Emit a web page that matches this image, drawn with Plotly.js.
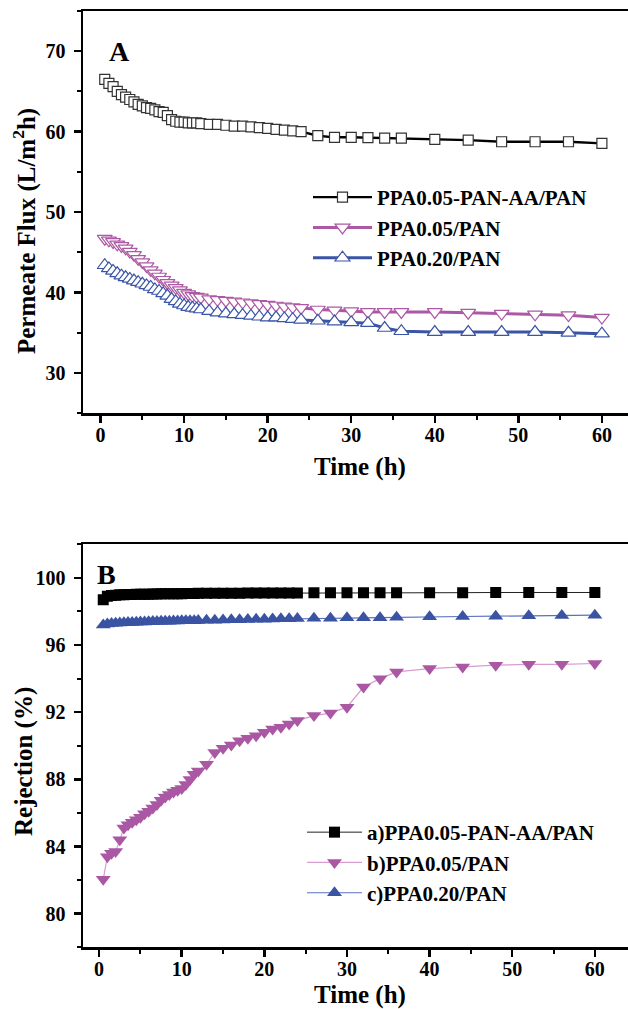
<!DOCTYPE html>
<html>
<head>
<meta charset="utf-8">
<script src="https://cdn.plot.ly/plotly-3.0.1.min.js"></script>
<style>
html,body{margin:0;padding:0;overflow:hidden;background:#fff;}
#chart{width:640px;height:1009px;}
</style>
</head>
<body>
<div id="chart"></div>
<script>
// Time (h) - shared sampling times
const time = [0.5,1,1.5,2,2.5,3,3.5,4,4.5,5,5.5,6,6.5,7,7.5,8,8.5,9,9.5,10,10.5,11,11.5,12,
  13,14,15,16,17,18,19,20,21,22,23,24,26,28,30,32,34,36,40,44,48,52,56,60];

// Panel A: Permeate flux (L/m2h)
const fluxAAPan = [66.5,66.0,65.6,65.0,64.6,64.3,64.0,63.7,63.4,63.2,63.0,62.9,62.7,62.5,62.4,62.0,61.5,61.3,61.2,61.2,61.1,61.1,61.1,61.0,
  60.9,60.9,60.8,60.7,60.7,60.6,60.5,60.4,60.3,60.2,60.1,60.0,59.5,59.3,59.3,59.25,59.2,59.2,59.05,58.95,58.75,58.75,58.75,58.55];
const flux005 = [46.7,46.5,46.3,46.0,45.8,45.5,45.1,44.7,44.2,43.8,43.3,42.8,42.4,42.0,41.6,41.2,40.9,40.6,40.3,40.0,39.8,39.6,39.5,39.4,
  39.2,39.1,39.0,38.9,38.8,38.7,38.6,38.5,38.4,38.3,38.2,38.1,37.9,37.8,37.7,37.6,37.6,37.6,37.6,37.5,37.4,37.3,37.2,36.9];
const flux020 = [43.4,43.0,42.7,42.4,42.1,41.9,41.7,41.5,41.3,41.1,40.9,40.7,40.4,40.2,39.9,39.6,39.2,38.9,38.6,38.4,38.2,38.1,38.0,37.9,
  37.7,37.5,37.4,37.3,37.2,37.1,37.0,36.9,36.9,36.8,36.7,36.6,36.5,36.4,36.3,36.2,35.6,35.2,35.1,35.1,35.1,35.1,35.0,34.9];

// Panel B: Rejection (%)
const rejAAPan = [98.7,98.9,98.95,98.97,99.0,99.0,99.01,99.01,99.02,99.02,99.03,99.03,99.04,99.04,99.05,99.05,99.05,99.06,99.06,99.06,99.07,99.07,99.07,99.08,
  99.08,99.08,99.09,99.09,99.09,99.1,99.1,99.1,99.1,99.1,99.1,99.1,99.12,99.12,99.12,99.12,99.12,99.12,99.12,99.12,99.13,99.13,99.13,99.13];
const rej005 = [82.05,83.4,83.6,83.7,84.4,85.1,85.3,85.45,85.6,85.75,85.95,86.1,86.3,86.5,86.75,86.95,87.1,87.25,87.35,87.45,87.7,88.0,88.3,88.5,
  88.9,89.6,89.85,90.05,90.3,90.45,90.6,90.8,91.0,91.1,91.3,91.5,91.8,91.95,92.3,93.5,94.0,94.4,94.6,94.7,94.8,94.85,94.85,94.9];
const rej020 = [97.2,97.25,97.28,97.3,97.32,97.33,97.34,97.35,97.36,97.37,97.38,97.39,97.4,97.4,97.41,97.42,97.42,97.43,97.43,97.44,97.44,97.45,97.45,97.46,
  97.47,97.48,97.49,97.5,97.51,97.52,97.53,97.54,97.55,97.56,97.57,97.58,97.6,97.6,97.62,97.62,97.63,97.65,97.68,97.7,97.72,97.74,97.76,97.78];

const namesA = ['PPA0.05-PAN-AA/PAN','PPA0.05/PAN','PPA0.20/PAN'];
const namesB = ['a)PPA0.05-PAN-AA/PAN','b)PPA0.05/PAN','c)PPA0.20/PAN'];

const FONT = 'Liberation Serif, Times New Roman, serif';
const MAG = '#AD58A4', BLUE = '#3B55A6';

const traces = [
  {x: time, y: fluxAAPan, name: namesA[0], xaxis:'x', yaxis:'y', legend:'legend', mode:'lines+markers',
   line:{color:'#000', width:2.4}, marker:{symbol:'square', size:10, color:'#fff', line:{color:'#333', width:1.2}}},
  {x: time, y: flux005, name: namesA[1], xaxis:'x', yaxis:'y', legend:'legend', mode:'lines+markers',
   line:{color:MAG, width:3}, marker:{symbol:'triangle-down', size:13, color:'#fff', line:{color:MAG, width:1.2}}},
  {x: time, y: flux020, name: namesA[2], xaxis:'x', yaxis:'y', legend:'legend', mode:'lines+markers',
   line:{color:BLUE, width:3}, marker:{symbol:'triangle-up', size:13, color:'#fff', line:{color:BLUE, width:1.2}}},
  {x: time, y: rejAAPan, name: namesB[0], xaxis:'x2', yaxis:'y2', legend:'legend2', mode:'lines+markers',
   line:{color:'#222', width:1}, marker:{symbol:'square', size:11, color:'#000'}},
  {x: time, y: rej005, name: namesB[1], xaxis:'x2', yaxis:'y2', legend:'legend2', mode:'lines+markers',
   line:{color:'#D79CD0', width:1.2}, marker:{symbol:'triangle-down', size:13, color:'#AA58A4'}},
  {x: time, y: rej020, name: namesB[2], xaxis:'x2', yaxis:'y2', legend:'legend2', mode:'lines+markers',
   line:{color:'#5A70C0', width:1.2}, marker:{symbol:'triangle-up', size:13, color:'#3A53A3'}}
];

function axisBase(extra){
  return Object.assign({
    showline:true, linecolor:'#000', linewidth:2.5, mirror:true,
    ticks:'outside', ticklen:7, tickwidth:2.5, tickcolor:'#000',
    showgrid:false, zeroline:false, ticklabelstandoff:4,
    tickfont:{family:FONT, size:20, color:'#000', weight:'bold'}
  }, extra);
}
const minorX = {dtick:5, tick0:0, ticks:'outside', ticklen:4, tickwidth:2, tickcolor:'#000', showgrid:false};

const H = 1009, W = 640;
const layout = {
  width:W, height:H, autosize:false,
  margin:{l:0, r:0, t:0, b:0},
  paper_bgcolor:'#fff', plot_bgcolor:'#fff',
  showlegend:true,
  xaxis: axisBase({domain:[83/W, 637/W], range:[-2.1, 64.2], anchor:'y', tickmode:'linear', tick0:0, dtick:10, minor:minorX, ticklabelstandoff:-5}),
  yaxis: axisBase({domain:[(H-413.3)/H, (H-11)/H], range:[25, 75], anchor:'x', tickmode:'linear', tick0:30, dtick:10,
    minor:{dtick:5, tick0:0, ticks:'outside', ticklen:4, tickwidth:2, tickcolor:'#000', showgrid:false}}),
  xaxis2: axisBase({domain:[83/W, 637/W], range:[-1.95, 65.1], anchor:'y2', tickmode:'linear', tick0:0, dtick:10, minor:minorX, ticklabelstandoff:-5}),
  yaxis2: axisBase({domain:[(H-947.3)/H, (H-544.3)/H], range:[78, 102], anchor:'x2', tickmode:'linear', tick0:80, dtick:4,
    minor:{dtick:2, tick0:0, ticks:'outside', ticklen:4, tickwidth:2, tickcolor:'#000', showgrid:false}}),
  legend: {x:308/W, y:1-177/H, xanchor:'left', yanchor:'top', bgcolor:'rgba(0,0,0,0)', borderwidth:0,
    itemwidth:59, font:{family:FONT, size:21, color:'#000', weight:'bold'}, tracegroupgap:0},
  legend2: {x:302/W, y:1-812/H, xanchor:'left', yanchor:'top', bgcolor:'rgba(0,0,0,0)', borderwidth:0,
    itemwidth:55, font:{family:FONT, size:21, color:'#000', weight:'bold'}, tracegroupgap:0},
  annotations: [
    {text:'A', xref:'paper', yref:'paper', x:119/W, y:1-52/H, xanchor:'center', yanchor:'middle', showarrow:false,
     font:{family:FONT, size:28, color:'#000', weight:'bold'}},
    {text:'B', xref:'paper', yref:'paper', x:106/W, y:1-574/H, xanchor:'center', yanchor:'middle', showarrow:false,
     font:{family:FONT, size:28, color:'#000', weight:'bold'}},
    {text:'Time (h)', xref:'paper', yref:'paper', x:360/W, y:1-467/H, xanchor:'center', yanchor:'middle', showarrow:false,
     font:{family:FONT, size:25, color:'#000', weight:'bold'}},
    {text:'Time (h)', xref:'paper', yref:'paper', x:360/W, y:1-995/H, xanchor:'center', yanchor:'middle', showarrow:false,
     font:{family:FONT, size:25, color:'#000', weight:'bold'}},
    {text:'Permeate Flux (L/m<sup>2</sup>h)', xref:'paper', yref:'paper', x:24/W, y:1-231/H, xanchor:'center', yanchor:'middle',
     textangle:-90, showarrow:false, font:{family:FONT, size:25, color:'#000', weight:'bold'}},
    {text:'Rejection (%)', xref:'paper', yref:'paper', x:24/W, y:1-762/H, xanchor:'center', yanchor:'middle',
     textangle:-90, showarrow:false, font:{family:FONT, size:25, color:'#000', weight:'bold'}}
  ]
};

Plotly.newPlot('chart', traces, layout, {displayModeBar:false, staticPlot:true});
</script>
</body>
</html>
